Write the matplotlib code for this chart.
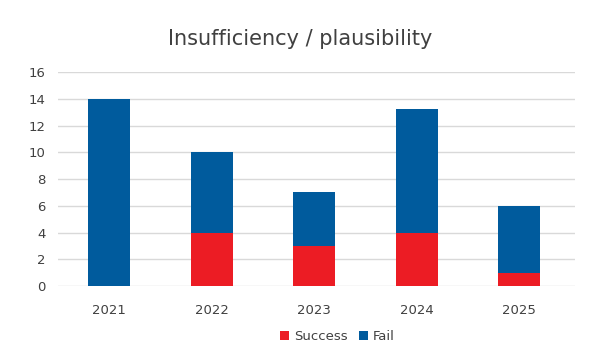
import numpy as np
import matplotlib.pyplot as plt

# Data
years = ['2021', '2022', '2023', '2024', '2025']
success = [0, 4, 3, 4, 1]
fail = [14, 6, 4, 9.2, 5]

red = '#ec1c24'
blue = '#005b9d'

fig = plt.figure(figsize=(6, 3.6), dpi=100)
ax = fig.add_axes([0.097, 0.205, 0.862, 0.595])

x = np.arange(len(years))
ax.bar(x, success, width=0.41, color=red, label='Success', zorder=3)
ax.bar(x, fail, width=0.41, bottom=success, color=blue, label='Fail', zorder=3)

ax.set_xlim(-0.5, 4.55)
ax.set_ylim(0, 16)
ax.set_yticks(np.arange(0, 17, 2))
ax.set_xticks(x)
ax.set_xticklabels(years)
ax.grid(axis='y', color='#d9d9d9', linewidth=1, zorder=0)
for s in ax.spines.values():
    s.set_visible(False)
ax.tick_params(length=0, labelsize=9.5, colors='#404040')
ax.tick_params(axis='x', pad=13)
ax.tick_params(axis='y', pad=9)

fig.suptitle('Insufficiency / plausibility', y=0.92, fontsize=15, color='#404040')
ax.legend(loc='upper center', bbox_to_anchor=(0.54, -0.15), ncol=2, frameon=False,
          fontsize=9.5, handlelength=0.7, handleheight=0.7, handletextpad=0.4,
          columnspacing=0.8, labelcolor='#404040')

fig.savefig('out.png', dpi=100)
